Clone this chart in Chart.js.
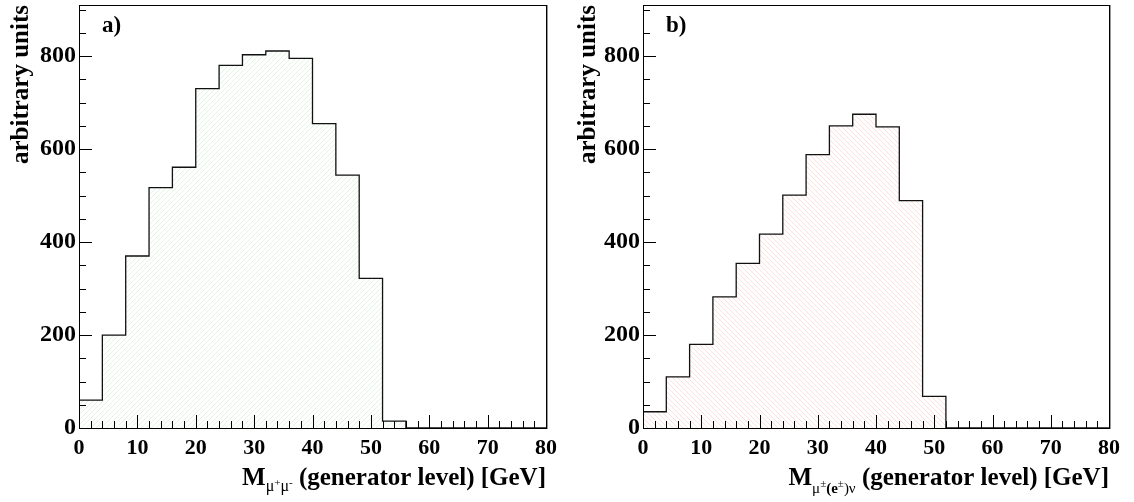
<!DOCTYPE html>
<html>
<head>
<meta charset="utf-8">
<script src="https://cdn.jsdelivr.net/npm/chart.js@4.4.1/dist/chart.umd.min.js"></script>
<style>
  html, body { margin: 0; padding: 0; background: #fff; }
  .wrap { display: flex; width: 1134px; height: 502px; }
  .panel { width: 567px; height: 502px; }
</style>
</head>
<body>
<div class="wrap">
  <div class="panel"><canvas id="chartA" width="567" height="502"></canvas></div>
  <div class="panel"><canvas id="chartB" width="567" height="502"></canvas></div>
</div>
<script>
// histogram bins: low edges in GeV, width 4
var binLow = [0, 4, 8, 12, 16, 20, 24, 28, 32, 36, 40, 44, 48, 52, 56, 60, 64, 68, 72, 76];
var binWidth = 4;

// a) M(mu+ mu-)
var valuesA = [60, 200, 370, 517, 561, 730, 780, 803, 811, 795, 655, 544, 322, 15, 0, 0, 0, 0, 0, 0];
// b) M(mu(e) nu)
var valuesB = [35, 110, 180, 282, 354, 417, 501, 588, 650, 675, 648, 489, 68, 0, 0, 0, 0, 0, 0, 0];

var xTicks = [0, 10, 20, 30, 40, 50, 60, 70, 80];
var yTicks = [0, 200, 400, 600, 800];

var SERIF = '"Liberation Serif", "Times New Roman", serif';

// step outline points from the bins
function stepPoints(values) {
    var pts = [{x: binLow[0], y: 0}];
    for (var i = 0; i < values.length; i++) {
        pts.push({x: binLow[i], y: values[i]});
    }
    var last = binLow.length - 1;
    pts.push({x: binLow[last] + binWidth, y: values[last]});
    return pts;
}

//############## hatch under the histogram ###################
var hatchFill = {
    id: 'hatchFill',
    beforeDatasetsDraw: function(chart, args, opts) {
        var ctx = chart.ctx, a = chart.chartArea;
        var pts = chart.getDatasetMeta(0).data;
        var base = chart.scales.y.getPixelForValue(0);
        ctx.save();
        // clip to the area under the step line
        ctx.beginPath();
        ctx.moveTo(pts[0].x, base);
        for (var i = 1; i < pts.length; i++) {
            ctx.lineTo(pts[i].x, pts[i - 1].y);
            ctx.lineTo(pts[i].x, pts[i].y);
        }
        ctx.lineTo(pts[pts.length - 1].x, base);
        ctx.closePath();
        ctx.clip();

        ctx.strokeStyle = opts.color;
        ctx.lineWidth = 1;
        ctx.beginPath();
        var h = a.bottom - a.top, gap = 5;
        for (var k = -h; k < (a.right - a.left) + h; k += gap) {
            if (opts.dir > 0) {
                ctx.moveTo(a.left + k, a.bottom);
                ctx.lineTo(a.left + k + h, a.top);
            } else {
                ctx.moveTo(a.left + k, a.top);
                ctx.lineTo(a.left + k + h, a.bottom);
            }
        }
        ctx.stroke();
        ctx.restore();
    }
};

//############## frame, inner ticks, labels ##################
var frameTicks = {
    id: 'frameTicks',
    afterDatasetsDraw: function(chart, args, opts) {
        var ctx = chart.ctx, a = chart.chartArea;
        var xs = chart.scales.x, ys = chart.scales.y;
        ctx.save();
        ctx.strokeStyle = '#000';
        ctx.lineWidth = 1;
        ctx.strokeRect(Math.round(a.left) + 0.5, Math.round(a.top) + 0.5,
                       Math.round(a.right - a.left), Math.round(a.bottom - a.top));
        // ROOT draws the right edge a bit heavier
        ctx.strokeStyle = '#999';
        ctx.beginPath();
        ctx.moveTo(Math.round(a.right) + 1.5, a.top);
        ctx.lineTo(Math.round(a.right) + 1.5, a.bottom + 1);
        ctx.stroke();

        ctx.strokeStyle = '#000';
        ctx.beginPath();
        for (var v = xs.min; v <= xs.max; v += 2) {
            var px = Math.round(xs.getPixelForValue(v)) + 0.5;
            var len = v % 10 === 0 ? 13 : 7;
            ctx.moveTo(px, a.bottom);
            ctx.lineTo(px, a.bottom - len);
        }
        for (var w = ys.min; w <= ys.max; w += 50) {
            var py = Math.round(ys.getPixelForValue(w)) + 0.5;
            var len2 = w % 200 === 0 ? 13 : 7;
            ctx.moveTo(a.left, py);
            ctx.lineTo(a.left + len2, py);
        }
        ctx.stroke();

        // panel tag
        ctx.fillStyle = '#000';
        ctx.textBaseline = 'alphabetic';
        ctx.textAlign = 'left';
        ctx.font = 'bold 23px ' + SERIF;
        ctx.fillText(opts.tag, a.left + 23, 32);

        // x title with subscripts, right aligned to the frame
        var parts = opts.title, total = 0;
        parts.forEach(function(p) {
            ctx.font = p.f + ' ' + SERIF;
            p.w = ctx.measureText(p.t).width;
            total += p.w;
        });
        var x = a.right - total;
        parts.forEach(function(p) {
            ctx.font = p.f + ' ' + SERIF;
            ctx.fillText(p.t, x, 485 + (p.dy || 0));
            x += p.w;
        });
        ctx.restore();
    }
};

function makeChart(id, values, hatch, tag, title, yWidth, rightPad) {
    var ctx = document.getElementById(id).getContext('2d');
    return new Chart(ctx, {
        type: 'line',
        data: {
            datasets: [{
                data: stepPoints(values),
                stepped: 'before',
                borderColor: '#111',
                borderWidth: 1.3,
                fill: false,
                pointRadius: 0
            }]
        },
        options: {
            responsive: false,
            animation: false,
            layout: { padding: { left: 0, top: 5, right: rightPad, bottom: 0 } },
            plugins: {
                legend: { display: false },
                tooltip: { enabled: false },
                hatchFill: hatch,
                frameTicks: { tag: tag, title: title }
            },
            scales: {
                x: {
                    type: 'linear',
                    min: 0,
                    max: 80,
                    grid: { display: false, drawTicks: false },
                    border: { display: false },
                    afterBuildTicks: function(s) { s.ticks = xTicks.map(function(v) { return {value: v}; }); },
                    afterFit: function(s) { s.height = 74; s.paddingLeft = 0; s.paddingRight = 0; },
                    ticks: {
                        autoSkip: false,
                        maxRotation: 0,
                        padding: 7,
                        color: '#000',
                        font: { family: SERIF, size: 22, weight: 'bold' }
                    }
                },
                y: {
                    min: 0,
                    max: 910,
                    grid: { display: false, drawTicks: false },
                    border: { display: false },
                    afterBuildTicks: function(s) { s.ticks = yTicks.map(function(v) { return {value: v}; }); },
                    afterFit: function(s) { s.width = yWidth; s.paddingTop = 0; s.paddingBottom = 0; },
                    ticks: {
                        padding: 3,
                        color: '#000',
                        font: { family: SERIF, size: 24, weight: 'bold' }
                    },
                    title: {
                        display: true,
                        text: 'arbitrary units',
                        align: 'end',
                        color: '#000',
                        padding: { top: 7, bottom: 0 },
                        font: { family: SERIF, size: 25, weight: 'bold' }
                    }
                }
            }
        },
        plugins: [hatchFill, frameTicks]
    });
}

var titleA = [
    {t: 'M', f: 'bold 25px'},
    {t: '\u03bc', f: '16px', dy: 6},
    {t: '+', f: '11px', dy: 1},
    {t: '\u03bc', f: '16px', dy: 6},
    {t: '-', f: '11px', dy: 1},
    {t: ' (generator level) [GeV]', f: 'bold 25px'}
];
var titleB = [
    {t: 'M', f: 'bold 25px'},
    {t: '\u03bc', f: '15px', dy: 8},
    {t: '\u00b1', f: '11px', dy: 2},
    {t: '(e', f: 'bold 15px', dy: 8},
    {t: '\u00b1', f: '11px', dy: 2},
    {t: ')\u03bd', f: '15px', dy: 8},
    {t: ' (generator level) [GeV]', f: 'bold 25px'}
];

makeChart('chartA', valuesA, {color: 'rgba(110,205,110,0.2)', dir: 1}, 'a)', titleA, 79, 21);
makeChart('chartB', valuesB, {color: 'rgba(240,110,110,0.22)', dir: -1}, 'b)', titleB, 76, 25);
</script>
</body>
</html>
